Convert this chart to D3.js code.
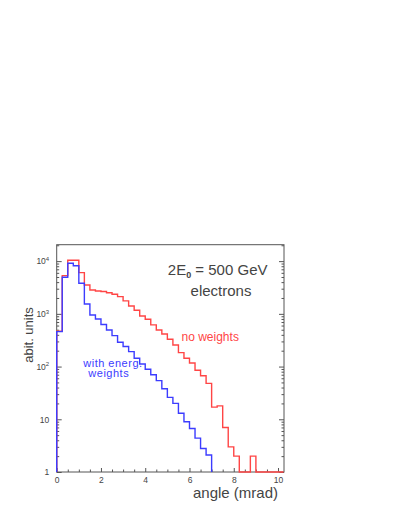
<!DOCTYPE html>
<html>
<head>
<meta charset="utf-8">
<script src="https://cdn.jsdelivr.net/npm/d3@7"></script>
<style>
  body { margin: 0; background: #fff; }
  svg text { font-family: "Liberation Sans", Arial, sans-serif; fill: #444; }
</style>
</head>
<body>
<div id="chart"></div>
<script>
// bin width 0.25 mrad, counts per bin
const binWidth = 0.25;
const noWeights = [470, 5300, 10400, 10400, 6050, 3530, 2840, 2720, 2660, 2520,
    2350, 2120, 1760, 1410, 1170, 912, 790, 617, 495, 415,
    330, 257, 184, 144, 117, 85, 67, 48, 17, 18,
    7, 3, 2, 0, 0, 2, 0, 0, 0, 0, 0];
const energWeights = [460, 4950, 9100, 8200, 3800, 1540, 953, 800, 630, 495,
    386, 289, 240, 192, 144, 112, 89, 70, 54, 38,
    26, 20, 13, 9, 6.7, 4.4, 2.8, 2.1];
const xMajor = [0, 2, 4, 6, 8, 10];
const yMajor = [1, 10, 100, 1000, 10000];

const W = 409, H = 529;
const margin = { top: 244.7, right: 125, bottom: 57, left: 56.7 },
    width = W - margin.left - margin.right,
    height = H - margin.top - margin.bottom;

const svg = d3.select("#chart")
    .append("svg")
    .attr("width", W)
    .attr("height", H)
    .append("g")
    .attr("transform", `translate(${margin.left}, ${margin.top})`);

const x = d3.scaleLinear().domain([0, 10.27]).range([0, width]);
const y = d3.scaleLog().domain([1, 20500]).range([height, 0]).clamp(true);

// minor ticks
const xMinor = d3.range(0, 10.26, 0.5).filter(v => v % 2 != 0);
const yMinor = [];
for (let e = 0; e < 5; e++) {
    for (let m = 2; m <= 9; m++) {
        if (m * Math.pow(10, e) < 20500) yMinor.push(m * Math.pow(10, e));
    }
}

function styleAxis(g) {
    g.select(".domain").remove();
    g.selectAll(".tick line").attr("stroke", "#555");
    g.selectAll(".tick text").attr("fill", "#444").attr("font-size", 8.5)
        .attr("font-family", "Liberation Sans, Arial, sans-serif");
}

// bottom axis
svg.append("g")
    .attr("transform", `translate(0, ${height})`)
    .call(d3.axisBottom(x).tickValues(xMajor).tickSize(-4).tickPadding(4.5).tickFormat(d3.format("d")))
    .call(styleAxis);
svg.append("g")
    .attr("transform", `translate(0, ${height})`)
    .call(d3.axisBottom(x).tickValues(xMinor).tickSize(-2.5).tickFormat(""))
    .call(styleAxis);

// left axis
const yAx = svg.append("g")
    .call(d3.axisLeft(y).tickValues(yMajor).tickSize(-5).tickPadding(7.5).tickFormat(d => d < 100 ? String(d) : "10"))
    .call(styleAxis);
yAx.selectAll(".tick text").each(function(d) {
    const e = Math.round(Math.log10(d));
    if (e >= 2) {
        d3.select(this).append("tspan")
            .attr("dy", -3.5)
            .attr("font-size", 6)
            .text(e);
    }
});
svg.append("g")
    .call(d3.axisLeft(y).tickValues(yMinor).tickSize(-2.5).tickFormat(""))
    .call(styleAxis);

// right axis
svg.append("g")
    .attr("transform", `translate(${width}, 0)`)
    .call(d3.axisRight(y).tickValues(yMajor).tickSize(-5).tickFormat(""))
    .call(styleAxis);
svg.append("g")
    .attr("transform", `translate(${width}, 0)`)
    .call(d3.axisRight(y).tickValues(yMinor).tickSize(-2.5).tickFormat(""))
    .call(styleAxis);

// frame
svg.append("rect")
    .attr("x", 0).attr("y", 0)
    .attr("width", width).attr("height", height)
    .attr("fill", "none")
    .attr("stroke", "#555")
    .attr("stroke-width", 1);

// step histogram outline
function histPoints(vals) {
    const pts = [[0, 0]];
    vals.forEach((v, i) => {
        pts.push([i * binWidth, v]);
        pts.push([(i + 1) * binWidth, v]);
    });
    pts.push([vals.length * binWidth, 0]);
    return pts;
}

const line = d3.line()
    .x(d => x(d[0]))
    .y(d => y(Math.max(d[1], 1)));

svg.append("path")
    .datum(histPoints(noWeights))
    .attr("d", line)
    .attr("fill", "none")
    .attr("stroke", "#ff4545")
    .attr("stroke-width", 1.4);

svg.append("path")
    .datum(histPoints(energWeights))
    .attr("d", line)
    .attr("fill", "none")
    .attr("stroke", "#3c3cff")
    .attr("stroke-width", 1.4);

// annotations
const title = svg.append("text")
    .attr("x", x(5.02)).attr("y", y(5500))
    .attr("font-size", 15)
    .text("2E");
title.append("tspan").attr("dy", 3).attr("font-size", 9).attr("font-weight", "bold").text("0");
title.append("tspan").attr("dy", -3).text(" = 500 GeV");

svg.append("text")
    .attr("x", x(6.05)).attr("y", y(2140))
    .attr("font-size", 15)
    .text("electrons");

svg.append("text")
    .attr("x", x(5.64)).attr("y", y(306))
    .attr("font-size", 12)
    .style("fill", "#ff4545")
    .text("no weights");

svg.append("text")
    .attr("x", x(1.2)).attr("y", y(98))
    .attr("font-size", 11)
    .attr("letter-spacing", 0.5)
    .style("fill", "#3c3cff")
    .text("with energ.");
svg.append("text")
    .attr("x", x(1.43)).attr("y", y(62))
    .attr("font-size", 11)
    .attr("letter-spacing", 0.5)
    .style("fill", "#3c3cff")
    .text("weights");

// axis titles
svg.append("text")
    .attr("text-anchor", "end")
    .attr("x", x(10))
    .attr("y", height + 26)
    .attr("font-size", 15)
    .text("angle (mrad)");

svg.append("text")
    .attr("text-anchor", "middle")
    .attr("transform", "rotate(-90)")
    .attr("x", -(335 - margin.top))
    .attr("y", -24)
    .attr("font-size", 13)
    .text("abit. units");
</script>
</body>
</html>
